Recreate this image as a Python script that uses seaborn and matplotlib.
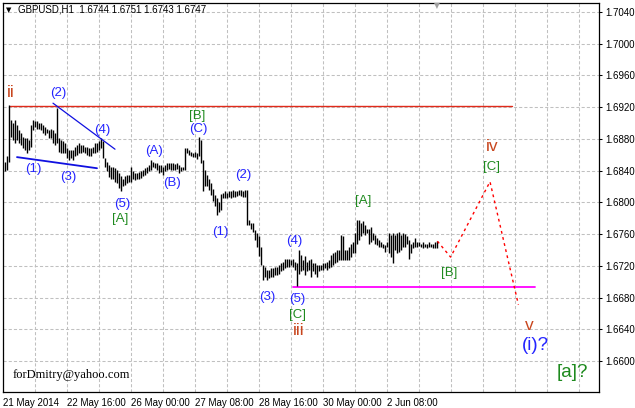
import numpy as np
import pandas as pd
import matplotlib
matplotlib.use("Agg")
import matplotlib.pyplot as plt
import seaborn as sns
from matplotlib.ticker import FixedLocator, MultipleLocator, FuncFormatter

# ---------------- data ----------------
bar_high = [
    1.6851, 1.6858, 1.6923, 1.6904, 1.6900, 1.6904, 1.6898, 1.6891, 1.6887, 1.6883,
    1.6881, 1.6881, 1.6879, 1.6898, 1.6904, 1.6902, 1.6902, 1.6900, 1.6900, 1.6898,
    1.6895, 1.6893, 1.6891, 1.6893, 1.6891, 1.6887, 1.6919, 1.6881, 1.6879, 1.6877,
    1.6875, 1.6868, 1.6866, 1.6866, 1.6866, 1.6870, 1.6872, 1.6875, 1.6872, 1.6872,
    1.6870, 1.6870, 1.6868, 1.6868, 1.6870, 1.6875, 1.6875, 1.6877, 1.6881, 1.6877,
    1.6856, 1.6851, 1.6847, 1.6845,
    1.6845, 1.6843, 1.6841, 1.6837, 1.6833, 1.6830, 1.6833, 1.6835, 1.6835, 1.6845,
    1.6839, 1.6837, 1.6837, 1.6838, 1.6839, 1.6841, 1.6843, 1.6845, 1.6847, 1.6854,
    1.6851, 1.6849, 1.6849, 1.6847, 1.6847, 1.6845, 1.6847, 1.6849, 1.6849, 1.6849,
    1.6849, 1.6848, 1.6849, 1.6847, 1.6845, 1.6845, 1.6868, 1.6868, 1.6866, 1.6864,
    1.6862, 1.6864, 1.6862, 1.6883, 1.6879, 1.6854, 1.6841, 1.6835, 1.6830, 1.6824,
    1.6817, 1.6809, 1.6805, 1.6801, 1.6811, 1.6812,
    1.6814, 1.6812, 1.6814, 1.6814, 1.6816, 1.6814, 1.6814, 1.6816, 1.6816, 1.6814,
    1.6816, 1.6816, 1.6778, 1.6774, 1.6774, 1.6765, 1.6761, 1.6757, 1.6744, 1.6721,
    1.6719, 1.6715, 1.6715, 1.6717, 1.6717, 1.6719, 1.6719, 1.6721, 1.6723, 1.6725,
    1.6729, 1.6729, 1.6729, 1.6727, 1.6729, 1.6725, 1.6723, 1.6740, 1.6734, 1.6727,
    1.6732, 1.6725, 1.6727, 1.6729, 1.6723, 1.6723, 1.6721, 1.6721, 1.6721, 1.6723,
    1.6723, 1.6725, 1.6727,
    1.6734, 1.6736, 1.6738, 1.6740, 1.6740, 1.6759, 1.6757, 1.6740, 1.6740, 1.6744,
    1.6748, 1.6750, 1.6761, 1.6778, 1.6778, 1.6774, 1.6776, 1.6771, 1.6767, 1.6767,
    1.6769, 1.6761, 1.6759, 1.6755, 1.6753, 1.6750, 1.6748, 1.6746, 1.6750, 1.6761,
    1.6759, 1.6761, 1.6759, 1.6761, 1.6763, 1.6759, 1.6761, 1.6760, 1.6757, 1.6753,
    1.6748, 1.6750, 1.6755, 1.6750, 1.6750, 1.6748, 1.6750, 1.6748, 1.6748, 1.6750,
    1.6748, 1.6748, 1.6750, 1.6751,
]
bar_low = [
    1.6839, 1.6841, 1.6851, 1.6883, 1.6879, 1.6875, 1.6879, 1.6875, 1.6872, 1.6868,
    1.6866, 1.6862, 1.6866, 1.6870, 1.6891, 1.6895, 1.6893, 1.6893, 1.6891, 1.6887,
    1.6885, 1.6887, 1.6881, 1.6881, 1.6875, 1.6872, 1.6875, 1.6864, 1.6862, 1.6862,
    1.6862, 1.6856, 1.6853, 1.6856, 1.6853, 1.6858, 1.6860, 1.6862, 1.6862, 1.6864,
    1.6862, 1.6860, 1.6858, 1.6858, 1.6862, 1.6862, 1.6864, 1.6866, 1.6868, 1.6856,
    1.6845, 1.6839, 1.6832, 1.6830,
    1.6830, 1.6826, 1.6824, 1.6818, 1.6814, 1.6820, 1.6822, 1.6824, 1.6826, 1.6826,
    1.6830, 1.6828, 1.6829, 1.6830, 1.6831, 1.6833, 1.6835, 1.6837, 1.6839, 1.6841,
    1.6845, 1.6843, 1.6841, 1.6837, 1.6838, 1.6835, 1.6839, 1.6841, 1.6842, 1.6841,
    1.6841, 1.6841, 1.6842, 1.6837, 1.6839, 1.6841, 1.6841, 1.6862, 1.6860, 1.6858,
    1.6857, 1.6857, 1.6855, 1.6858, 1.6849, 1.6814, 1.6820, 1.6820, 1.6816, 1.6809,
    1.6802, 1.6795, 1.6784, 1.6788, 1.6790, 1.6805,
    1.6805, 1.6806, 1.6807, 1.6806, 1.6807, 1.6807, 1.6808, 1.6809, 1.6808, 1.6807,
    1.6807, 1.6771, 1.6771, 1.6767, 1.6763, 1.6753, 1.6744, 1.6732, 1.6721, 1.6702,
    1.6706, 1.6702, 1.6704, 1.6706, 1.6706, 1.6708, 1.6708, 1.6710, 1.6713, 1.6715,
    1.6717, 1.6719, 1.6719, 1.6721, 1.6719, 1.6715, 1.6694, 1.6710, 1.6713, 1.6715,
    1.6708, 1.6713, 1.6715, 1.6706, 1.6713, 1.6710, 1.6706, 1.6713, 1.6715, 1.6715,
    1.6717, 1.6715, 1.6717,
    1.6719, 1.6721, 1.6723, 1.6725, 1.6727, 1.6727, 1.6727, 1.6727, 1.6727, 1.6727,
    1.6731, 1.6736, 1.6736, 1.6748, 1.6753, 1.6757, 1.6761, 1.6759, 1.6761, 1.6748,
    1.6750, 1.6753, 1.6748, 1.6746, 1.6744, 1.6744, 1.6742, 1.6738, 1.6744, 1.6736,
    1.6731, 1.6724, 1.6740, 1.6736, 1.6738, 1.6740, 1.6744, 1.6744, 1.6748, 1.6729,
    1.6736, 1.6742, 1.6744, 1.6744, 1.6745, 1.6744, 1.6742, 1.6744, 1.6743, 1.6744,
    1.6744, 1.6742, 1.6742, 1.6743,
]

forecast_bar = [217.2, 223.8, 243.5, 257.7]
forecast_price = [1.6751, 1.6731, 1.6826, 1.6671]

resistance_bar = [3.5, 254.5]
resistance_price = [1.6922, 1.6922]
support_bar = [145, 266]
support_price = [1.6693, 1.6693]
upper_trend_bar = [25, 56]
upper_trend_price = [1.6925, 1.6867]
lower_trend_bar = [7, 47]
lower_trend_price = [1.6857, 1.6843]

date_tick_bars = [0, 32, 64, 96, 128, 160, 192]
date_tick_labels = ["21 May 2014", "22 May 16:00", "26 May 00:00", "27 May 08:00",
                    "28 May 16:00", "30 May 00:00", "2 Jun 08:00"]
price_ticks = [1.6600, 1.6640, 1.6680, 1.6720, 1.6760, 1.6800, 1.6840,
               1.6880, 1.6920, 1.6960, 1.7000, 1.7040]

wave_text = ["ii", "(2)", "(4)", "(1)", "(3)", "(5)", "[A]", "(A)", "(B)", "[B]", "(C)",
             "(2)", "(1)", "(4)", "(3)", "(5)", "[C]", "iii", "[A]", "[B]", "iv", "[C]",
             "v", "(i)?", "[a]?"]
wave_bar = [4, 27.5, 49.5, 15, 32.5, 59.5, 58.5, 75.5, 84.5, 97, 97.5,
            120, 108.5, 145.5, 132, 147, 147.5, 148, 180, 223, 244.5, 244,
            263, 266, 284.5]
wave_price = [1.6938, 1.6938, 1.6891, 1.6842, 1.6832, 1.6798, 1.6779, 1.6865, 1.6824,
              1.6909, 1.6893, 1.6834, 1.6763, 1.6751, 1.6681, 1.6678, 1.6658, 1.6638,
              1.6802, 1.6711, 1.6870, 1.6845, 1.6645, 1.6619, 1.6586]
wave_kind = ["roman", "minor", "minor", "minor", "minor", "minor", "inter", "minor",
             "minor", "inter", "minor", "minor", "minor", "minor", "minor", "minor",
             "inter", "roman", "inter", "inter", "roman", "inter", "roman", "big_minor",
             "big_inter"]

header = "GBPUSD,H1  1.6744 1.6751 1.6743 1.6747"
signature = "forDmitry@yahoo.com"

# ---------------- styling ----------------
sns.set_style("white")
plt.rcParams['font.family'] = ['Liberation Sans', 'DejaVu Sans']

W, H = 635, 408
fig = plt.figure(figsize=(W / 100, H / 100), dpi=100)
fig.patch.set_facecolor("white")
ax = fig.add_axes([3 / W, 16 / H, 596 / W, 389 / H])
ax.set_facecolor("white")

bars = pd.DataFrame({"bar": np.arange(1, len(bar_high) + 1),
                     "high": bar_high, "low": bar_low})

ax.set_xlim(0, 298)
ax.set_ylim(1.65609, 1.70513)

# grid
ax.set_axisbelow(True)
ax.xaxis.set_major_locator(FixedLocator(date_tick_bars))
ax.xaxis.set_minor_locator(MultipleLocator(16))
ax.set_xticklabels(date_tick_labels)
ax.yaxis.set_major_locator(FixedLocator(price_ticks))
ax.yaxis.set_major_formatter(FuncFormatter(lambda v, p: f"{v:.4f}"))
ax.yaxis.tick_right()
ax.grid(True, which="both", axis="x", color="#c0c0c0", lw=0.75, linestyle=(0, (3, 2)))
ax.grid(True, which="major", axis="y", color="#c0c0c0", lw=0.75, linestyle=(0, (3, 2)))
ax.tick_params(axis="x", which="minor", length=0)
ax.tick_params(axis="x", which="major", length=2.5, width=0.75, direction="out",
               pad=1.5, labelsize=7, colors="black")
ax.tick_params(axis="y", which="major", length=2.5, width=0.75, direction="out",
               pad=2, labelsize=7, colors="black", right=True, left=False)
for lbl in ax.get_xticklabels():
    lbl.set_ha("left")
for s in ax.spines.values():
    s.set_color("black")
    s.set_linewidth(0.9)

# OHLC bars (high-low)
ax.vlines(bars["bar"], bars["low"], bars["high"], color="black", lw=1.0, zorder=3)

# horizontal levels and trend lines
sns.lineplot(x=resistance_bar, y=resistance_price, ax=ax, color="#e02a1a", lw=1.0, zorder=2)
sns.lineplot(x=support_bar, y=support_price, ax=ax, color="#ff00ff", lw=1.3, zorder=2)
sns.lineplot(x=upper_trend_bar, y=upper_trend_price, ax=ax, color="#1010e0", lw=0.9, zorder=4)
sns.lineplot(x=lower_trend_bar, y=lower_trend_price, ax=ax, color="#1010e0", lw=1.3, zorder=4)
sns.lineplot(x=forecast_bar, y=forecast_price, ax=ax, color="#ff0000", lw=1.0,
             linestyle=(0, (2, 2.5)), zorder=4, sort=False)

# wave labels
styles = {
    "roman": dict(color="#c8461e", size=12.5),
    "minor": dict(color="#2424ff", size=9.5),
    "inter": dict(color="#1e8a1e", size=9.5),
    "big_minor": dict(color="#2424ff", size=13.5),
    "big_inter": dict(color="#1e8a1e", size=13.5),
}
for t, b, p, k in zip(wave_text, wave_bar, wave_price, wave_kind):
    st = styles[k]
    ax.text(b, p, t, ha="center", va="center", color=st["color"], fontsize=st["size"],
            zorder=5, clip_on=False)

ax.text(5, 1.6582, signature, ha="left", va="center", fontsize=9,
        family=["Liberation Serif", "DejaVu Serif"], color="black", zorder=5)

# header and markers
fig.text(6 / W, 1 - 10 / H, "▼", fontsize=5, va="center", ha="left",
         family=["DejaVu Sans"], color="black")
fig.text(18 / W, 1 - 10 / H, header, fontsize=7, va="center", ha="left", color="black")
fig.text(437 / W, 1 - 5.5 / H, "▼", fontsize=5.5, va="center", ha="center",
         family=["DejaVu Sans"], color="#a0a0a0")

fig.savefig("out.png", dpi=100, facecolor="white")
